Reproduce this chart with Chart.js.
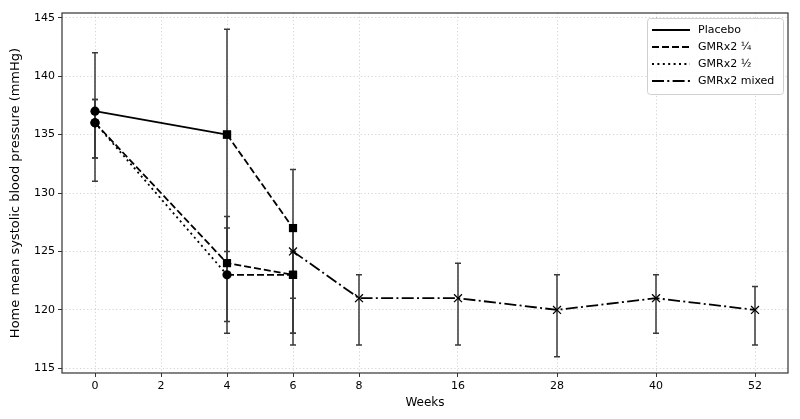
<!DOCTYPE html>
<html>
<head>
<meta charset="utf-8">
<script src="https://cdn.jsdelivr.net/npm/chart.js@4.4.0/dist/chart.umd.min.js"></script>
<style>
  html, body { margin: 0; padding: 0; background: #fff; }
</style>
</head>
<body>
<canvas id="bp" width="800" height="419"></canvas>
<script>
// x axis: weeks shown at uneven but ordered positions
var weeks = [0, 2, 4, 6, 8, 16, 28, 40, 52];
var weekPos = [0, 1, 2, 3, 4, 5.5, 7, 8.5, 10];
var yTicks = [115, 120, 125, 130, 135, 140, 145];

// Placebo (weeks 0-4)
var placeboWeeks = [0, 4];
var placeboMean = [137, 135];
var placeboLow = [131, 125];
var placeboHigh = [142, 144];

// Placebo group switched to GMRx2 1/4 (weeks 4-6)
var switchWeeks = [4, 6];
var switchMean = [135, 127];
var switchLow = [null, 121];
var switchHigh = [null, 132];

// GMRx2 1/4
var quarterWeeks = [0, 4, 6];
var quarterMean = [136, 124, 123];
var quarterLow = [133, 119, 118];
var quarterHigh = [138, 128, 125];

// GMRx2 1/2
var halfWeeks = [0, 4, 6];
var halfMean = [136, 123, 123];
var halfLow = [133, 118, 117];
var halfHigh = [138, 127, 125];

// GMRx2 mixed
var mixedWeeks = [6, 8, 16, 28, 40, 52];
var mixedMean = [125, 121, 121, 120, 121, 120];
var mixedLow = [118, 117, 117, 116, 118, 117];
var mixedHigh = [127, 123, 124, 123, 123, 122];

var FONT = "'DejaVu Sans', sans-serif";
var DASHED = [7, 3];
var DOTTED = [2, 3.4];
var DASHDOT = [12, 3.3, 2, 3.3];

function pts(wk, vals) {
  return wk.map(function(w, i) {
    return { x: weekPos[weeks.indexOf(w)], y: vals[i] };
  });
}

function series(wk, mean, low, high, dash, styles, extra) {
  var ds = {
    data: pts(wk, mean),
    errLow: low,
    errHigh: high,
    borderColor: '#000',
    backgroundColor: '#000',
    borderWidth: 1.8,
    borderDash: dash,
    pointStyle: styles,
    pointRadius: styles.map(function(s) { return s === 'rect' ? 5.8 : (s === 'crossRot' ? 5.6 : 4.6); }),
    pointBorderWidth: styles.map(function(s) { return s === 'crossRot' ? 1.3 : 0; }),
    pointBackgroundColor: '#000',
    pointBorderColor: '#000',
    tension: 0,
    fill: false
  };
  for (var k in extra) ds[k] = extra[k];
  return ds;
}

var errorBars = {
  id: 'errorBars',
  beforeDatasetsDraw: function(chart) {
    var ctx = chart.ctx, y = chart.scales.y;
    ctx.save();
    ctx.strokeStyle = '#3a3a3a';
    ctx.lineWidth = 1.5;
    ctx.setLineDash([]);
    chart.data.datasets.forEach(function(ds, i) {
      if (!ds.errLow) return;
      var meta = chart.getDatasetMeta(i);
      meta.data.forEach(function(pt, j) {
        if (ds.errLow[j] == null) return;
        var top = y.getPixelForValue(ds.errHigh[j]);
        var bot = y.getPixelForValue(ds.errLow[j]);
        ctx.beginPath();
        ctx.moveTo(pt.x, top); ctx.lineTo(pt.x, bot);
        ctx.moveTo(pt.x - 3, top); ctx.lineTo(pt.x + 3, top);
        ctx.moveTo(pt.x - 3, bot); ctx.lineTo(pt.x + 3, bot);
        ctx.stroke();
      });
    });
    ctx.restore();
  }
};

var frameAndLegend = {
  id: 'frameAndLegend',
  afterDraw: function(chart) {
    var ctx = chart.ctx, a = chart.chartArea;
    ctx.save();
    ctx.strokeStyle = '#333';
    ctx.lineWidth = 1.2;
    ctx.setLineDash([]);
    ctx.strokeRect(a.left, a.top, a.right - a.left, a.bottom - a.top);

    // legend box
    var bx = 647.5, by = 18.5, bw = 136, bh = 76;
    ctx.fillStyle = 'rgba(255,255,255,0.85)';
    ctx.strokeStyle = '#d0d0d0';
    ctx.lineWidth = 1;
    ctx.beginPath();
    ctx.roundRect(bx, by, bw, bh, 3);
    ctx.fill();
    ctx.stroke();

    var items = [
      { label: 'Placebo', dash: [] },
      { label: 'GMRx2 \u00BC', dash: DASHED },
      { label: 'GMRx2 \u00BD', dash: DOTTED },
      { label: 'GMRx2 mixed', dash: DASHDOT }
    ];
    ctx.font = '11px ' + FONT;
    ctx.textBaseline = 'middle';
    ctx.fillStyle = '#000';
    items.forEach(function(it, i) {
      var yy = 30 + i * 17;
      ctx.beginPath();
      ctx.strokeStyle = '#000';
      ctx.lineWidth = 1.8;
      ctx.setLineDash(it.dash);
      ctx.moveTo(652, yy); ctx.lineTo(690, yy);
      ctx.stroke();
      ctx.setLineDash([]);
      ctx.fillText(it.label, 698, yy);
    });
    ctx.restore();
  }
};

var gridOpts = {
  color: 'rgba(0,0,0,0.22)',
  lineWidth: 0.8,
  drawTicks: true,
  tickLength: 4,
  tickColor: '#333',
  tickWidth: 1,
  tickBorderDash: []
};
var borderOpts = { display: false, dash: [1.2, 2.4] };

new Chart(document.getElementById('bp'), {
  type: 'line',
  data: {
    datasets: [
      series(placeboWeeks, placeboMean, placeboLow, placeboHigh, [], ['circle', 'rect']),
      series(switchWeeks, switchMean, switchLow, switchHigh, DASHED, ['rect', 'rect']),
      series(quarterWeeks, quarterMean, quarterLow, quarterHigh, DASHED, ['circle', 'rect', 'rect']),
      series(halfWeeks, halfMean, halfLow, halfHigh, DOTTED, ['circle', 'circle', 'rect'], {
        segment: { borderDash: function(c) { return c.p0DataIndex === 1 ? DASHED : undefined; } }
      }),
      series(mixedWeeks, mixedMean, mixedLow, mixedHigh, DASHDOT,
        mixedWeeks.map(function() { return 'crossRot'; }))
    ]
  },
  options: {
    responsive: false,
    animation: false,
    devicePixelRatio: 1,
    layout: { padding: { top: 13, right: 12, left: 0, bottom: 0 } },
    plugins: {
      legend: { display: false },
      tooltip: { enabled: false }
    },
    scales: {
      x: {
        type: 'linear',
        min: -0.5,
        max: 10.5,
        grid: gridOpts,
        border: borderOpts,
        afterBuildTicks: function(s) {
          s.ticks = weekPos.map(function(p) { return { value: p }; });
        },
        afterFit: function(s) { s.height = 46; },
        ticks: {
          color: '#000',
          padding: 3,
          maxRotation: 0,
          autoSkip: false,
          font: { family: FONT, size: 11 },
          callback: function(v) {
            var i = weekPos.indexOf(v);
            return i >= 0 ? String(weeks[i]) : '';
          }
        },
        title: {
          display: true,
          text: 'Weeks',
          color: '#000',
          padding: { top: 0, bottom: 9 },
          font: { family: FONT, size: 12 }
        }
      },
      y: {
        type: 'linear',
        min: 114.6,
        max: 145.4,
        grid: gridOpts,
        border: borderOpts,
        afterBuildTicks: function(s) {
          s.ticks = yTicks.map(function(v) { return { value: v }; });
        },
        afterFit: function(s) { s.width = 62; },
        ticks: {
          color: '#000',
          padding: 3,
          font: { family: FONT, size: 11 }
        },
        title: {
          display: true,
          text: 'Home mean systolic blood pressure (mmHg)',
          color: '#000',
          padding: { top: 8, bottom: 0 },
          font: { family: FONT, size: 13 }
        }
      }
    }
  },
  plugins: [errorBars, frameAndLegend]
});
</script>
</body>
</html>
